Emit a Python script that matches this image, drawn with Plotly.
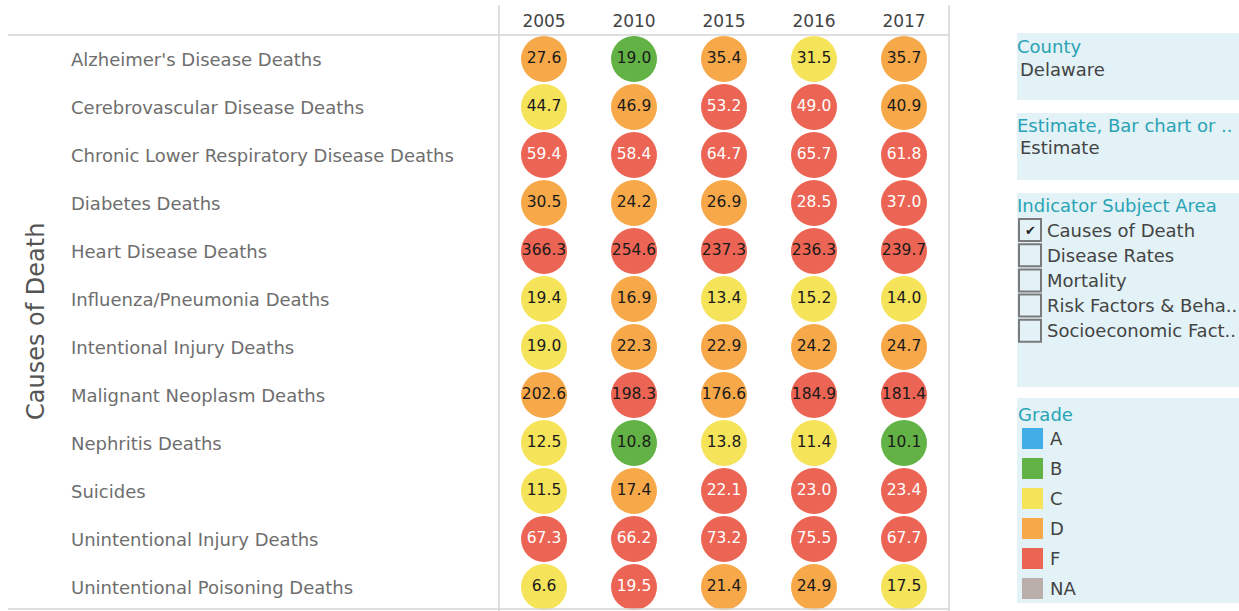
import plotly.graph_objects as go

W, H = 1239, 611

years = ["2005", "2010", "2015", "2016", "2017"]
causes = [
    "Alzheimer's Disease Deaths",
    "Cerebrovascular Disease Deaths",
    "Chronic Lower Respiratory Disease Deaths",
    "Diabetes Deaths",
    "Heart Disease Deaths",
    "Influenza/Pneumonia Deaths",
    "Intentional Injury Deaths",
    "Malignant Neoplasm Deaths",
    "Nephritis Deaths",
    "Suicides",
    "Unintentional Injury Deaths",
    "Unintentional Poisoning Deaths",
]
values = [
    [27.6, 19.0, 35.4, 31.5, 35.7],
    [44.7, 46.9, 53.2, 49.0, 40.9],
    [59.4, 58.4, 64.7, 65.7, 61.8],
    [30.5, 24.2, 26.9, 28.5, 37.0],
    [366.3, 254.6, 237.3, 236.3, 239.7],
    [19.4, 16.9, 13.4, 15.2, 14.0],
    [19.0, 22.3, 22.9, 24.2, 24.7],
    [202.6, 198.3, 176.6, 184.9, 181.4],
    [12.5, 10.8, 13.8, 11.4, 10.1],
    [11.5, 17.4, 22.1, 23.0, 23.4],
    [67.3, 66.2, 73.2, 75.5, 67.7],
    [6.6, 19.5, 21.4, 24.9, 17.5],
]
grades = [
    ["D", "B", "D", "C", "D"],
    ["C", "D", "F", "F", "D"],
    ["F", "F", "F", "F", "F"],
    ["D", "D", "D", "F", "F"],
    ["F", "F", "F", "F", "F"],
    ["C", "D", "C", "C", "C"],
    ["C", "D", "D", "D", "D"],
    ["D", "F", "D", "F", "F"],
    ["C", "B", "C", "C", "B"],
    ["C", "D", "F", "F", "F"],
    ["F", "F", "F", "F", "F"],
    ["C", "F", "D", "D", "C"],
]
grade_labels = ["A", "B", "C", "D", "F", "NA"]
grade_colors = {"A": "#41aee8", "B": "#62b245", "C": "#f5e35a", "D": "#f7a849",
                "F": "#ec6453", "NA": "#b9aea9"}
subject_areas = ["Causes of Death", "Disease Rates", "Mortality",
                 "Risk Factors & Beha..", "Socioeconomic Fact.."]
subject_checked = [True, False, False, False, False]

FONT = "DejaVu Sans"


def px(x):
    return x / W


def py(y):
    return 1 - y / H


xs, ys, txt, cols, tcols = [], [], [], [], []
for i, c in enumerate(causes):
    for j, yr in enumerate(years):
        v = values[i][j]
        g = grades[i][j]
        xs.append(yr)
        ys.append(c)
        txt.append(f"{v:.1f}")
        cols.append(grade_colors[g])
        tcols.append("#ffffff" if (g == "F" and v < 100) else "#1a1a1a")

fig = go.Figure()
fig.add_trace(go.Scatter(
    x=xs, y=ys, mode="markers+text", text=txt,
    textposition="middle center",
    textfont=dict(family=FONT, size=15.5, color=tcols),
    marker=dict(size=46, color=cols, line=dict(width=0)),
    hoverinfo="skip", showlegend=False, cliponaxis=False,
))

shapes = []
annotations = []
line_col = "#d4d4d4"
# grid lines
shapes.append(dict(type="line", xref="paper", yref="paper", x0=px(8), x1=px(949),
                   y0=py(35), y1=py(35), line=dict(color=line_col, width=1.5)))
shapes.append(dict(type="line", xref="paper", yref="paper", x0=px(8), x1=px(949),
                   y0=py(609), y1=py(609), line=dict(color=line_col, width=1.5)))
for xv in (499, 949):
    shapes.append(dict(type="line", xref="paper", yref="paper", x0=px(xv), x1=px(xv),
                       y0=py(5), y1=py(611), line=dict(color=line_col, width=1.5)))

# row labels
for c in causes:
    annotations.append(dict(x=px(69), xref="paper", y=c, yref="y", text=c,
                            showarrow=False, xanchor="left", yanchor="middle",
                            font=dict(family=FONT, size=18, color="#6e6e6e")))
annotations.append(dict(x=px(36), xref="paper", y=py(322), yref="paper",
                        text="Causes of Death", textangle=-90, showarrow=False,
                        xanchor="center", yanchor="middle",
                        font=dict(family=FONT, size=24, color="#555555")))

# right-hand panels
panel_bg = "#e2f2f6"
teal = "#29a3b5"
dark = "#444444"
for (y0, y1) in [(33, 100), (113, 180), (193, 387), (398, 603)]:
    shapes.append(dict(type="rect", xref="paper", yref="paper", x0=px(1017), x1=px(1239),
                       y0=py(y1), y1=py(y0), fillcolor=panel_bg, line=dict(width=0),
                       layer="below"))


def txt_ann(x, y, s, color, size=18):
    annotations.append(dict(x=px(x), xref="paper", y=py(y), yref="paper", text=s,
                            showarrow=False, xanchor="left", yanchor="middle",
                            font=dict(family=FONT, size=size, color=color)))


txt_ann(1015, 47, "County", teal)
txt_ann(1018, 69, "Delaware", dark)
txt_ann(1015, 125, "Estimate, Bar chart or ..", teal)
txt_ann(1018, 148, "Estimate", dark)
txt_ann(1015, 205, "Indicator Subject Area", teal)
for k, (lab, chk) in enumerate(zip(subject_areas, subject_checked)):
    cy = 230 + k * 25.2
    shapes.append(dict(type="rect", xref="paper", yref="paper", x0=px(1019), x1=px(1041),
                       y0=py(cy + 11), y1=py(cy - 11), fillcolor="rgba(0,0,0,0)",
                       line=dict(color="#7a7a7a", width=2)))
    if chk:
        annotations.append(dict(x=px(1030), xref="paper", y=py(cy), yref="paper", text="✔",
                                showarrow=False, xanchor="center", yanchor="middle",
                                font=dict(family=FONT, size=13, color="#222222")))
    txt_ann(1045, cy, lab, dark)

txt_ann(1016, 414, "Grade", teal)
for k, g in enumerate(grade_labels):
    cy = 438.5 + k * 30
    shapes.append(dict(type="rect", xref="paper", yref="paper", x0=px(1022), x1=px(1043),
                       y0=py(cy + 10.5), y1=py(cy - 10.5), fillcolor=grade_colors[g],
                       line=dict(width=0)))
    txt_ann(1048, cy, g, dark)

fig.update_layout(
    width=W, height=H,
    margin=dict(l=0, r=0, t=0, b=0),
    paper_bgcolor="white", plot_bgcolor="white",
    font=dict(family=FONT),
    xaxis=dict(type="category", categoryorder="array", categoryarray=years,
               range=[-0.5, 4.5], domain=[px(499), px(949)], side="top",
               showgrid=False, zeroline=False, showline=False, ticks="",
               ticklabelstandoff=4,
               tickfont=dict(family=FONT, size=17, color="#444444"), fixedrange=True),
    yaxis=dict(type="category", categoryorder="array", categoryarray=causes,
               range=[11.5, -0.5], domain=[py(611), py(35)],
               showgrid=False, zeroline=False, showline=False, ticks="",
               showticklabels=False, fixedrange=True),
    shapes=shapes, annotations=annotations,
)

fig.write_html(
    "out.html",
    config={"displayModeBar": False},
    post_script="document.body.style.margin='0';document.body.style.overflow='hidden';",
)
